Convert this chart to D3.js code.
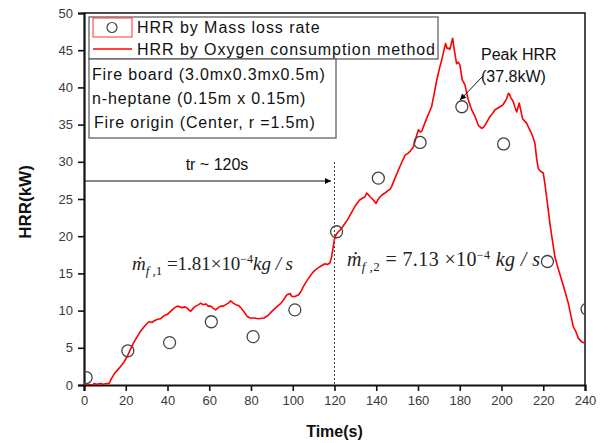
<!DOCTYPE html>
<html>
<head>
<meta charset="utf-8">
<script src="https://cdn.jsdelivr.net/npm/d3@7"></script>
<style>
  html, body { margin: 0; padding: 0; background: #fff; }
  svg { display: block; }
  text { font-family: "Liberation Sans", Arial, sans-serif; }
</style>
</head>
<body>
<svg id="chart" width="608" height="443"></svg>
<script>
// ---- Data ----
const hrrTime = [0,2,4,5,6,8,9,11,12,13,14.5,16,17.5,19.2,21,22.4,24,25.5,27,28.7,30,31.1,32.5,33.5,35,36.5,38.3,40,41.5,43,44.7,46,47,48.5,49.5,51.1,52.3,53.5,55,55.9,57,58.3,59.5,60.7,62,63.1,64.3,65.5,66.7,67.9,69.1,70.3,71.5,72.7,73.9,75.1,76.5,78.2,79.5,81.4,83.5,86.2,88,90,92.3,94,95.5,97.1,98.7,99.5,101,102.7,104,105,106.3,107.5,108.7,109.8,111.5,113,114.2,115.4,116.6,117.8,118.6,119.4,120,120.7,121.5,122.6,124,125,126.2,127.4,128.6,129.8,131,132.2,133.4,134.6,135.4,136.2,137,137.8,138.8,139.9,140.8,141.8,143,144.2,145.4,146.6,147.4,149,150.6,152.2,153.8,155,156.2,157.8,159,160.2,161,161.8,163,164.1,165.3,166.5,167.8,169,170.5,171.3,172.1,173.2,174,174.5,175.2,175.8,176.6,177.4,178,178.5,179.3,180.1,181.2,182,182.5,183.3,184.1,185.7,187.3,188.9,190.5,191.3,192.1,193.3,194.5,195.7,196.9,198.1,199.3,200.5,201.7,202.5,203.3,203.8,204.5,205.6,206.5,207.3,208.5,209.3,210.1,211,212,213.2,214.4,215.2,216,216.8,217.6,218.8,220,220.8,221.6,222.4,223.2,224.4,225.6,227.2,228.8,230.4,232,233.2,234.4,235.6,236.8,238.4,240];
const hrrValue = [0,0.1,0,0.2,0.1,0.2,0.1,0.2,0.2,0.8,1.5,2.0,2.5,3.1,4.0,4.9,5.8,6.5,7.2,7.8,8.2,8.5,8.4,8.6,8.8,8.9,9.3,9.5,9.9,10.3,10.6,10.5,10.4,10.5,10.3,9.9,10.3,10.6,10.8,11.0,10.8,10.9,10.6,10.6,10.3,10.1,10.4,10.6,10.6,10.8,11.0,11.3,11.0,10.8,10.7,10.4,9.9,9.2,9.0,9.0,8.9,9.0,9.3,9.9,10.5,10.9,11.4,12.1,12.3,11.9,11.9,12.1,12.6,13.2,13.8,14.3,14.8,15.2,15.6,15.9,16.1,16.3,16.2,16.4,17.2,18.6,19.6,20.2,20.5,20.8,21.3,21.7,22.2,22.8,23.4,24.0,24.5,24.9,25.1,25.3,25.8,25.6,25.3,25.1,24.8,24.4,24.9,25.3,25.6,25.8,26.1,26.3,26.7,27.8,28.9,29.9,30.9,31.1,31.4,32.0,33.2,34.3,34.0,34.1,35.0,35.8,36.6,37.4,39.2,41.0,42.8,43.6,44.6,45.9,45.2,45.3,45.1,45.7,46.6,45.0,44.0,43.2,43.4,43.0,41.0,40.6,40.3,39.3,38.3,37.0,36.1,34.9,34.5,34.6,34.9,35.5,36.1,36.5,37.0,37.2,37.4,37.6,38.1,38.5,39.2,39.1,38.6,38.1,37.3,36.7,37.9,36.8,35.8,35.5,35.2,34.5,33.8,33.2,32.5,30.5,29.1,28.7,28.5,27.0,25.3,23.5,21.7,19.4,17.2,15.6,14.1,12.6,11.0,9.4,7.8,7.2,6.3,5.8,5.6];

const mlrTime  = [1, 21, 41, 61, 81, 101, 121, 141, 161, 181, 201, 222, 241];
const mlrValue = [1.0, 4.6, 5.7, 8.5, 6.5, 10.1, 20.6, 27.8, 32.6, 37.4, 32.4, 16.6, 10.2];

const xTicks = [0, 20, 40, 60, 80, 100, 120, 140, 160, 180, 200, 220, 240];
const yTicks = [0, 5, 10, 15, 20, 25, 30, 35, 40, 45, 50];

const legendLabels = ["HRR by Mass loss rate", "HRR by Oxygen consumption method"];
const infoLines = ["Fire board (3.0mx0.3mx0.5m)", "n-heptane (0.15m x 0.15m)", "Fire origin (Center, r =1.5m)"];

// ---- Layout ----
const svg = d3.select("#chart");
const L = 84, R = 585, T = 13, B = 385;
const x = d3.scaleLinear().domain([0, 240]).range([L, R]);
const y = d3.scaleLinear().domain([0, 50]).range([B, T]);

const defs = svg.append("defs");
defs.append("clipPath").attr("id", "clip")
  .append("rect").attr("x", L).attr("y", T).attr("width", R - L).attr("height", B - T);
defs.append("marker").attr("id", "arrow").attr("viewBox", "0 0 10 10")
  .attr("refX", 10).attr("refY", 5).attr("markerWidth", 9).attr("markerHeight", 6)
  .attr("markerUnits", "userSpaceOnUse").attr("orient", "auto")
  .append("path").attr("d", "M0,0 L10,5 L0,10 Z").attr("fill", "#000");

// frame (top/right)
svg.append("path").attr("d", `M${L},${T} H${R} V${B}`).attr("fill", "none")
  .attr("stroke", "#111").attr("stroke-width", 1.5);

// axes
const xAxis = svg.append("g").attr("transform", `translate(0,${B})`)
  .call(d3.axisBottom(x).tickValues(xTicks).tickSize(6).tickPadding(5).tickFormat(d3.format("d")));
const yAxis = svg.append("g").attr("transform", `translate(${L},0)`)
  .call(d3.axisLeft(y).tickValues(yTicks).tickSize(6).tickPadding(5).tickFormat(d3.format("d")));
[xAxis, yAxis].forEach(g => {
  g.select(".domain").attr("stroke", "#111").attr("stroke-width", 2.2);
  g.selectAll(".tick line").attr("stroke", "#111").attr("stroke-width", 1.6);
  g.selectAll(".tick text").attr("fill", "#3a3a3a").style("font-size", "13px")
    .style("font-family", "'Liberation Sans', Arial, sans-serif");
});

// axis titles
svg.append("text").attr("x", (L + R) / 2).attr("y", 437).attr("text-anchor", "middle")
  .style("font-weight", "bold").style("font-size", "16px").attr("fill", "#111").text("Time(s)");
svg.append("text").attr("transform", `translate(31,${(T + B) / 2 + 3}) rotate(-90)`).attr("text-anchor", "middle")
  .style("font-weight", "bold").style("font-size", "17px").attr("fill", "#111").text("HRR(kW)");

// plot content
const plot = svg.append("g").attr("clip-path", "url(#clip)");

// dashed vertical line at t = 120
plot.append("line").attr("x1", x(120)).attr("x2", x(120)).attr("y1", 162).attr("y2", B)
  .attr("stroke", "#444").attr("stroke-width", 1).attr("stroke-dasharray", "2,2");

// HRR line
const line = d3.line().x((d, i) => x(hrrTime[i])).y(d => y(d));
plot.append("path").datum(hrrValue).attr("d", line).attr("fill", "none")
  .attr("stroke", "#ff0000").attr("stroke-width", 1.6).attr("stroke-linejoin", "round");

// Mass loss circles
plot.selectAll("circle.mlr").data(mlrValue).enter().append("circle").attr("class", "mlr")
  .attr("cx", (d, i) => x(mlrTime[i])).attr("cy", d => y(d)).attr("r", 6)
  .attr("fill", "none").attr("stroke", "#444").attr("stroke-width", 1.3);

// tr arrow
svg.append("line").attr("x1", L).attr("x2", 331).attr("y1", 181).attr("y2", 181)
  .attr("stroke", "#111").attr("stroke-width", 1).attr("marker-end", "url(#arrow)");
svg.append("text").attr("x", 217).attr("y", 170).attr("text-anchor", "middle")
  .style("font-size", "16px").attr("fill", "#111").text("tr ~ 120s");

// Peak HRR annotation
svg.append("text").attr("x", 481).attr("y", 60).style("font-size", "16px").attr("fill", "#111").text("Peak HRR");
svg.append("text").attr("x", 481).attr("y", 82).style("font-size", "16px").attr("fill", "#111").text("(37.8kW)");
svg.append("line").attr("x1", 483).attr("y1", 76).attr("x2", 460).attr("y2", 100)
  .attr("stroke", "#111").attr("stroke-width", 1).attr("marker-end", "url(#arrow)");

// Legend
const lg = svg.append("g");
lg.append("rect").attr("x", 89).attr("y", 17).attr("width", 349).attr("height", 42)
  .attr("fill", "#fff").attr("stroke", "#555").attr("stroke-width", 1.2);
lg.append("rect").attr("x", 93).attr("y", 18).attr("width", 39).attr("height", 19)
  .attr("fill", "none").attr("stroke", "#ff3333").attr("stroke-width", 1);
lg.append("circle").attr("cx", 112).attr("cy", 27.5).attr("r", 5)
  .attr("fill", "none").attr("stroke", "#444").attr("stroke-width", 1.2);
lg.append("line").attr("x1", 93).attr("x2", 132).attr("y1", 49).attr("y2", 49)
  .attr("stroke", "#ff0000").attr("stroke-width", 1.6);
lg.selectAll("text.leg").data(legendLabels).enter().append("text").attr("class", "leg")
  .attr("x", 137).attr("y", (d, i) => 33 + i * 22)
  .style("font-size", "16px").style("letter-spacing", "0.95px").attr("fill", "#111").text(d => d);

// info box
lg.append("rect").attr("x", 89).attr("y", 59).attr("width", 247).attr("height", 79)
  .attr("fill", "#fff").attr("stroke", "#555").attr("stroke-width", 1.2);
lg.selectAll("text.info").data(infoLines).enter().append("text").attr("class", "info")
  .attr("x", (d, i) => i === 2 ? 94 : 92).attr("y", (d, i) => 80 + i * 24)
  .style("font-size", "16px").style("letter-spacing", "0.85px").attr("fill", "#111").text(d => d);

// Math annotations
function mathText(x0, y0, num, subIdx, spaced, width, fs) {
  const t = svg.append("text").attr("x", x0).attr("y", y0)
    .attr("textLength", width).attr("lengthAdjust", "spacing")
    .style("font-family", "'Liberation Serif', 'Times New Roman', serif")
    .style("font-size", fs + "px").attr("fill", "#222");
  t.append("tspan").style("font-style", "italic").text("ṁ");
  t.append("tspan").attr("dy", 5).style("font-size", "13px").style("font-style", "italic").text("f");
  t.append("tspan").attr("dy", 0).style("font-size", "13px").text(" ," + subIdx);
  t.append("tspan").attr("dy", -5).text(spaced ? " = " + num + " ×10" : " =" + num + "×10");
  t.append("tspan").attr("dy", -7).style("font-size", "12px").text("−4");
  t.append("tspan").attr("dy", 7).style("font-style", "italic").text(spaced ? " kg / s" : "kg / s");
  return t;
}
mathText(132, 270, "1.81", "1", false, 161, 19);
mathText(347, 266, "7.13", "2", true, 193, 20);
</script>
</body>
</html>
